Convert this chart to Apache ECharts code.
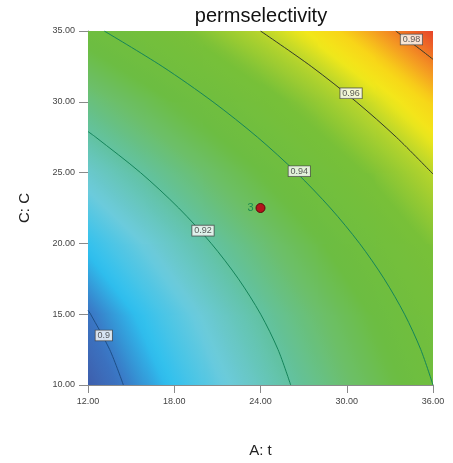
<!DOCTYPE html>
<html><head><meta charset="utf-8">
<script src="https://cdn.jsdelivr.net/npm/echarts@6/dist/echarts.min.js"></script>
<style>html,body{margin:0;padding:0;background:#fff}#c{width:453px;height:463px}</style>
</head><body><div id="c"></div>
<script>
// ---- data ----
const gridA = [12, 16, 20, 24, 28, 32, 36];
const gridC = [10, 15, 20, 25, 30, 35];
const respC10 = [0.8963, 0.9024, 0.9090, 0.9161, 0.9236, 0.9316, 0.9400];
const respC15 = [0.8997, 0.9060, 0.9128, 0.9200, 0.9276, 0.9357, 0.9443];
const respC20 = [0.9057, 0.9121, 0.9190, 0.9263, 0.9341, 0.9423, 0.9510];
const respC25 = [0.9140, 0.9206, 0.9276, 0.9351, 0.9430, 0.9514, 0.9602];
const respC30 = [0.9248, 0.9316, 0.9387, 0.9463, 0.9544, 0.9629, 0.9718];
const respC35 = [0.9381, 0.9450, 0.9523, 0.9600, 0.9682, 0.9768, 0.9859];

const contour090 = [[14.46, 10], [13.51, 12.5], [12.18, 15], [12, 15.28]];
const contour092 = [[26.10, 10], [25.22, 12.5], [24.01, 15], [22.46, 17.5], [20.57, 20], [18.31, 22.5], [15.65, 25], [12.54, 27.5], [12, 27.9]];
const contour094 = [[36, 10], [35.15, 12.5], [34.02, 15], [32.60, 17.5], [30.89, 20], [28.86, 22.5], [26.50, 25], [23.79, 27.5], [20.69, 30], [17.16, 32.5], [13.13, 35]];
const contour096 = [[36, 24.9], [33.45, 27.5], [30.66, 30], [27.53, 32.5], [24, 35]];
const contour098 = [[36, 33.0], [35.05, 33.75], [33.41, 35]];
const levelNames = ['0.9', '0.92', '0.94', '0.96', '0.98'];
const levelLabelA = [13.1, 20.0, 26.7, 30.3, 34.5];
const levelLabelC = [13.5, 20.9, 25.1, 30.6, 34.4];

const designA = [24];
const designC = [22.5];
const designReps = [3];

// ---- styles ----
const cmapStops = [
  [0.8960, [62, 92, 170]],
  [0.9000, [58, 118, 196]],
  [0.9050, [46, 192, 239]],
  [0.9120, [108, 203, 220]],
  [0.9200, [98, 194, 162]],
  [0.9280, [108, 191, 106]],
  [0.9350, [108, 189, 66]],
  [0.9500, [120, 192, 56]],
  [0.9600, [184, 213, 44]],
  [0.9660, [242, 232, 26]],
  [0.9715, [248, 212, 24]],
  [0.9770, [244, 156, 34]],
  [0.9820, [238, 104, 38]],
  [0.9860, [230, 66, 42]]
];
function cmap(v) {
  if (v <= cmapStops[0][0]) return 'rgb(' + cmapStops[0][1].join(',') + ')';
  for (let k = 1; k < cmapStops.length; k++) {
    if (v <= cmapStops[k][0]) {
      const a = cmapStops[k - 1], b = cmapStops[k];
      const t = (v - a[0]) / (b[0] - a[0]);
      const c = a[1].map((x, i) => Math.round(x + (b[1][i] - x) * t));
      return 'rgb(' + c.join(',') + ')';
    }
  }
  return 'rgb(' + cmapStops[cmapStops.length - 1][1].join(',') + ')';
}
const lineColors = ['#1e4f86', '#15845a', '#15845a', '#333b2a', '#333b2a'];
const font = 'Liberation Sans';

// ---- build ----
const respRows = [respC10, respC15, respC20, respC25, respC30, respC35];
const cells = [];
for (let j = 0; j < gridC.length - 1; j++) {
  for (let i = 0; i < gridA.length - 1; i++) {
    cells.push([gridA[i], gridC[j], gridA[i + 1], gridC[j + 1],
      respRows[j][i], respRows[j][i + 1], respRows[j + 1][i], respRows[j + 1][i + 1]]);
  }
}

function renderCell(params, api) {
  const p0 = api.coord([api.value(0), api.value(1)]);
  const p1 = api.coord([api.value(2), api.value(3)]);
  const x0 = p0[0], yb = p0[1], x1 = p1[0], yt = p1[1];
  const W = x1 - x0, H = yb - yt;
  const v00 = api.value(4), v10 = api.value(5), v01 = api.value(6), v11 = api.value(7);
  const gx = ((v10 - v00) + (v11 - v01)) / 2 / W;
  const gy = -((v01 - v00) + (v11 - v10)) / 2 / H;
  const vc = (v00 + v10 + v01 + v11) / 4;
  const gl = Math.hypot(gx, gy) || 1e-9;
  const dx = gx / gl, dy = gy / gl;
  const cx = x0 + W / 2, cy = yt + H / 2;
  const R = 0.5 * Math.hypot(W, H);
  const vlo = vc - gl * R, vhi = vc + gl * R;
  const stops = [];
  const N = 12;
  for (let k = 0; k <= N; k++) {
    const t = k / N;
    stops.push({ offset: t, color: cmap(vlo + (vhi - vlo) * t) });
  }
  return {
    type: 'rect',
    silent: true,
    shape: { x: x0, y: yt, width: W + 0.7, height: H + 0.7 },
    style: { fill: new echarts.graphic.LinearGradient(cx - dx * R, cy - dy * R, cx + dx * R, cy + dy * R, stops, true) }
  };
}

const contours = [contour090, contour092, contour094, contour096, contour098];
const series = [{
  type: 'custom',
  renderItem: renderCell,
  data: cells,
  encode: { x: [0, 2], y: [1, 3] },
  clip: true,
  silent: true,
  z: 1
}];
contours.forEach((c, k) => {
  series.push({
    type: 'line',
    data: c,
    smooth: 0.3,
    symbol: 'none',
    silent: true,
    clip: true,
    lineStyle: { color: lineColors[k], width: 1 },
    z: 3
  });
});
series.push({
  type: 'scatter',
  silent: true,
  symbolSize: 1,
  itemStyle: { color: 'rgba(0,0,0,0)' },
  data: levelNames.map((n, k) => [levelLabelA[k], levelLabelC[k], n]),
  label: {
    show: true, position: 'inside',
    formatter: p => p.value[2],
    fontSize: 9, color: '#333', fontFamily: font,
    backgroundColor: '#fff', borderColor: '#444', borderWidth: 0.8,
    padding: [1, 2, 0, 2]
  },
  z: 5
});
series.push({
  type: 'scatter',
  silent: true,
  symbolSize: 9,
  data: designA.map((a, k) => [a, designC[k], designReps[k]]),
  itemStyle: { color: '#b3141b', borderColor: '#5a0a0a', borderWidth: 1, opacity: 1 },
  label: {
    show: true, position: 'left', distance: 2,
    formatter: p => String(p.value[2]),
    fontSize: 11, color: '#1d8a50', fontFamily: font
  },
  z: 6
});

const chart = echarts.init(document.getElementById('c'), null, { renderer: 'canvas' });
chart.setOption({
  animation: false,
  backgroundColor: '#fff',
  title: {
    text: 'permselectivity', left: 256, top: 1, textAlign: 'center',
    textStyle: { fontSize: 20, fontWeight: 'normal', color: '#111', fontFamily: font }
  },
  grid: { left: 88, right: 20, top: 31, bottom: 76, containLabel: false },
  xAxis: {
    type: 'value', min: 12, max: 36, interval: 6,
    axisLine: { show: true, onZero: false, lineStyle: { color: '#8a8a8a', width: 1 } },
    axisTick: { show: true, length: 8, lineStyle: { color: '#8a8a8a' } },
    axisLabel: { formatter: v => v.toFixed(2), fontSize: 9, color: '#444', margin: 12, fontFamily: font },
    splitLine: { show: false },
    name: 'A: t', nameLocation: 'middle', nameGap: 58,
    nameTextStyle: { fontSize: 15, color: '#222', fontFamily: font }
  },
  yAxis: {
    type: 'value', min: 10, max: 35, interval: 5,
    axisLine: { show: true, onZero: false, lineStyle: { color: '#8a8a8a', width: 1 } },
    axisTick: { show: true, length: 9, lineStyle: { color: '#8a8a8a' } },
    axisLabel: { formatter: v => v.toFixed(2), fontSize: 9, color: '#444', margin: 13, fontFamily: font },
    splitLine: { show: false },
    name: 'C: C', nameLocation: 'middle', nameGap: 56,
    nameTextStyle: { fontSize: 15, color: '#222', fontFamily: font }
  },
  series: series
});
</script></body></html>
